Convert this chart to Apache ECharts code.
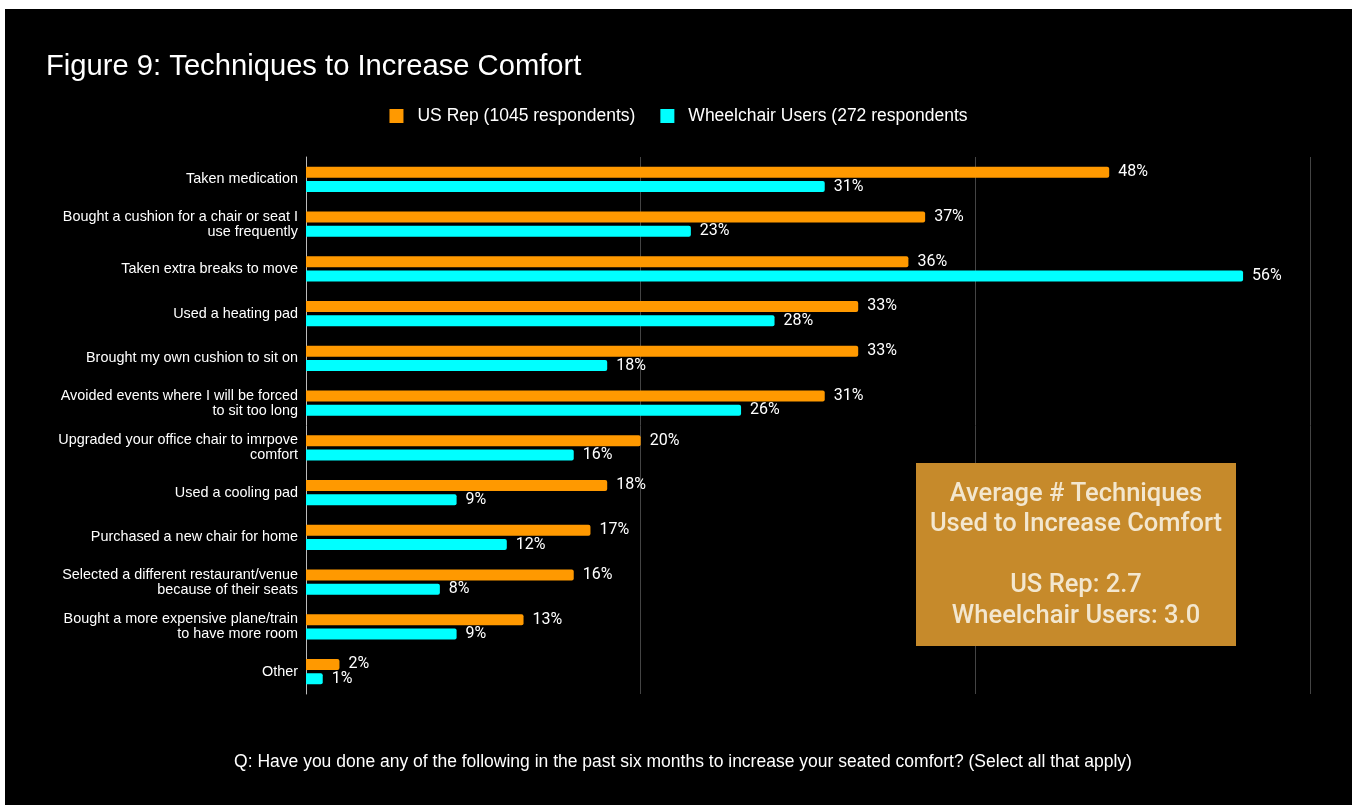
<!DOCTYPE html>
<html>
<head>
<meta charset="utf-8">
<script src="https://cdn.jsdelivr.net/npm/echarts@6/dist/echarts.min.js"></script>
<style>
  html, body { margin: 0; padding: 0; background: #fff; }
  #chart { position: absolute; left: 5px; top: 9px; width: 1347px; height: 796px; }
</style>
</head>
<body>
<div id="chart"></div>
<script>
const categories = [
  'Taken medication',
  'Bought a cushion for a chair or seat I\nuse frequently',
  'Taken extra breaks to move',
  'Used a heating pad',
  'Brought my own cushion to sit on',
  'Avoided events where I will be forced\nto sit too long',
  'Upgraded your office chair to imrpove\ncomfort',
  'Used a cooling pad',
  'Purchased a new chair for home',
  'Selected a different restaurant/venue\nbecause of their seats',
  'Bought a more expensive plane/train\nto have more room',
  'Other'
];
const usRep = [48, 37, 36, 33, 33, 31, 20, 18, 17, 16, 13, 2];
const wheelchair = [31, 23, 56, 28, 18, 26, 16, 9, 12, 8, 9, 1];
const seriesNames = ['US Rep (1045 respondents)', 'Wheelchair Users (272 respondents'];
const boxLines = ['Average # Techniques', 'Used to Increase Comfort', '', 'US Rep: 2.7', 'Wheelchair Users: 3.0'];

const chart = echarts.init(document.getElementById('chart'));

const labelStyle = {
  show: true,
  position: 'right',
  distance: 9,
  color: '#fff',
  fontFamily: 'Roboto',
  fontSize: 16,
  formatter: p => p.value + '%'
};

chart.setOption({
  backgroundColor: '#000',
  animation: false,
  title: {
    text: 'Figure 9: Techniques to Increase Comfort',
    left: 36,
    top: 38,
    textStyle: { color: '#fff', fontFamily: 'Liberation Sans', fontSize: 29.2, fontWeight: 'normal' }
  },
  legend: {
    top: 93,
    left: 'center',
    itemWidth: 14,
    itemHeight: 14,
    itemGap: 25,
    icon: 'rect',
    textStyle: { color: '#fff', fontFamily: 'Liberation Sans', fontSize: 17.5, padding: [0, 0, 0, 9] },
    data: seriesNames
  },
  grid: { left: 301, right: 42, top: 148, height: 537, containLabel: false },
  xAxis: {
    type: 'value',
    min: 0,
    max: 60,
    interval: 20,
    axisLabel: { show: false },
    axisLine: { show: false },
    axisTick: { show: false },
    splitLine: { show: true, lineStyle: { color: '#444', width: 1 } }
  },
  yAxis: {
    type: 'category',
    inverse: true,
    data: categories,
    axisLine: { show: true, lineStyle: { color: '#bbb' } },
    axisTick: { show: false },
    axisLabel: {
      color: '#fff',
      fontFamily: 'Liberation Sans',
      fontSize: 14.4,
      lineHeight: 15,
      margin: 8
    }
  },
  series: [
    {
      name: seriesNames[0],
      type: 'bar',
      data: usRep,
      barWidth: 11,
      barGap: '30%',
      itemStyle: { color: '#ff9900', borderRadius: [0, 2, 2, 0] },
      label: labelStyle
    },
    {
      name: seriesNames[1],
      type: 'bar',
      data: wheelchair,
      barWidth: 11,
      itemStyle: { color: '#00ffff', borderRadius: [0, 2, 2, 0] },
      label: labelStyle
    }
  ],
  graphic: [
    {
      type: 'rect',
      shape: { x: 911, y: 454, width: 320, height: 183 },
      style: { fill: '#c68a2b' },
      z: 10
    },
    {
      type: 'text',
      x: 1071,
      y: 470,
      z: 11,
      style: {
        text: boxLines.join('\n'),
        fill: '#f3e7cf',
        font: '500 25.5px Roboto',
        lineHeight: 30.5,
        align: 'center',
        verticalAlign: 'top'
      }
    },
    {
      type: 'text',
      x: 678,
      y: 753,
      style: {
        text: 'Q: Have you done any of the following in the past six months to increase your seated comfort? (Select all that apply)',
        fill: '#fff',
        font: '17.5px "Liberation Sans"',
        align: 'center',
        verticalAlign: 'middle'
      }
    }
  ]
});
</script>
</body>
</html>
